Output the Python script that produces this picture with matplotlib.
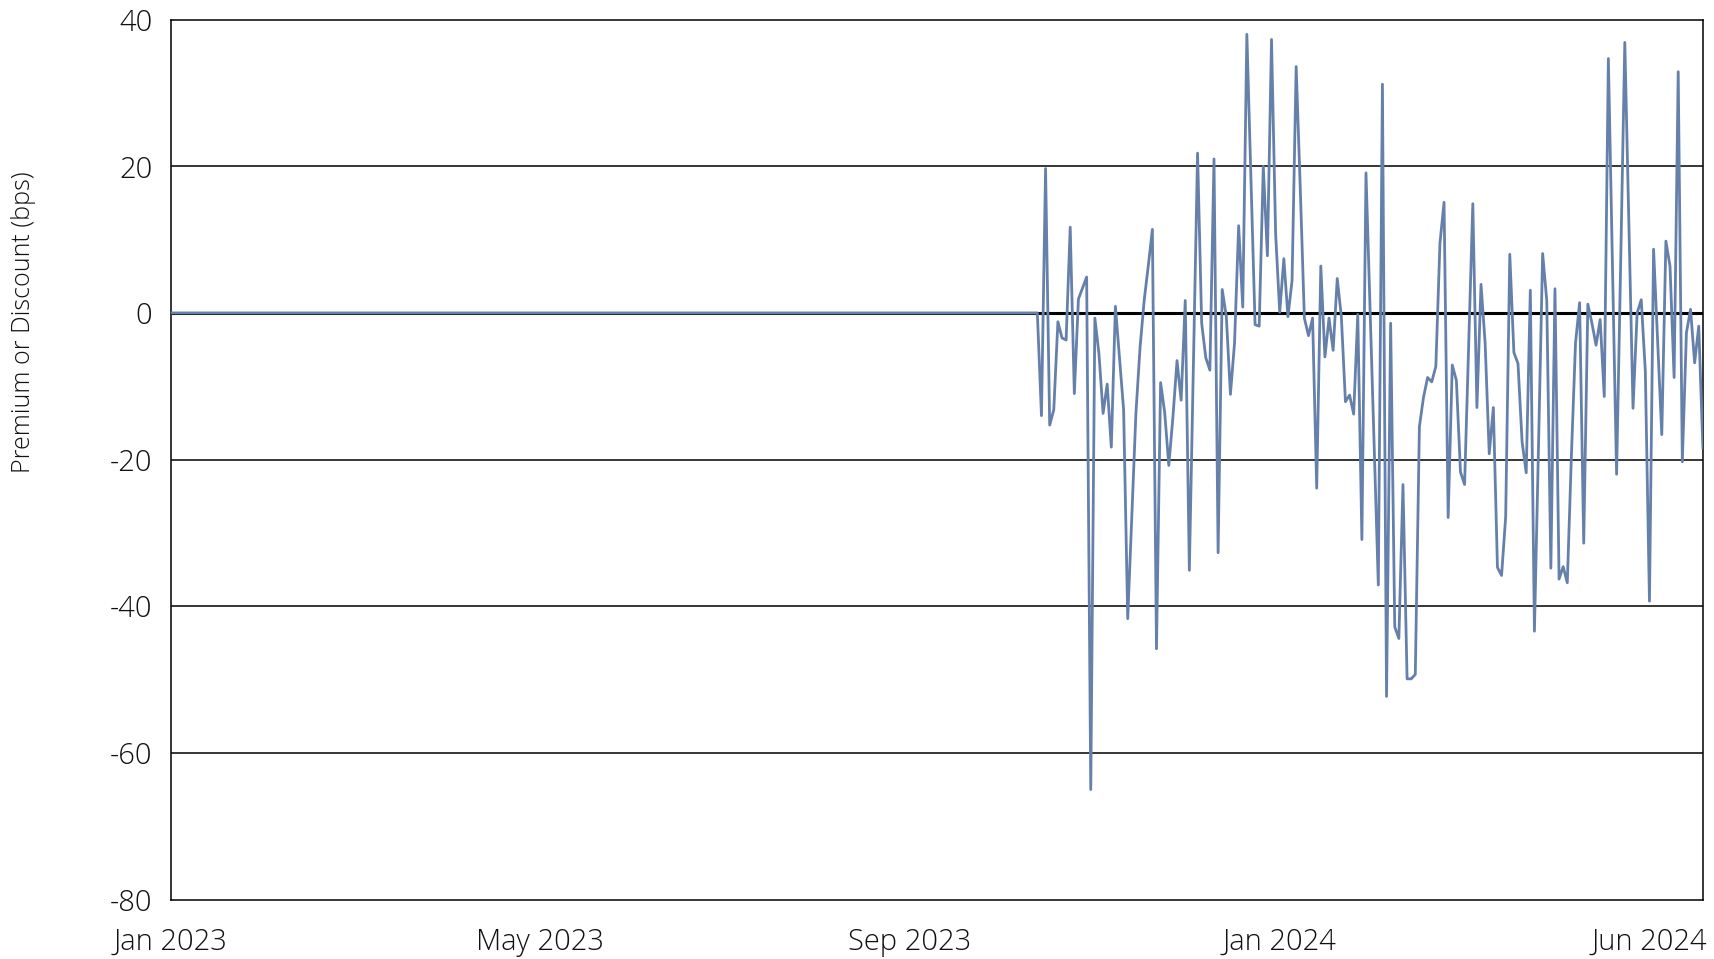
import matplotlib.pyplot as plt
import pandas as pd

# exchange closures inside the plotted window
holidays = ['2023-01-02', '2023-01-16', '2023-02-20', '2023-04-07', '2023-05-29',
            '2023-06-19', '2023-07-04', '2023-09-04', '2023-11-23', '2023-12-25',
            '2024-01-01', '2024-01-15', '2024-02-19', '2024-03-29', '2024-05-27',
            '2024-06-19']
dates = pd.bdate_range('2023-01-03', '2024-06-28', freq='C', holidays=holidays)

# premium/discount (bps) once secondary trading starts; flat at zero before that
traded = [
    -14.0, 19.7, -15.3, -13.2, -1.2, -3.4, -3.7, 11.7, -11.0, 1.9,
    3.4, 4.9, -65.0, -0.7, -5.6, -13.7, -9.7, -18.3, 0.9, -6.1,
    -13.2, -41.7, -27.8, -13.6, -4.7, 1.7, 6.4, 11.4, -45.8, -9.5,
    -13.6, -20.8, -14.2, -6.5, -11.9, 1.7, -35.1, -7.0, 21.8, -1.4,
    -6.1, -7.8, 21.0, -32.7, 3.2, -0.5, -11.1, -4.1, 11.9, 0.8,
    38.0, 18.0, -1.6, -1.8, 20.0, 7.8, 37.3, 10.8, 0.1, 7.4,
    -0.5, 4.4, 33.6, 17.0, -0.7, -3.1, -0.7, -23.9, 6.4, -6.0,
    -0.7, -5.1, 4.7, -0.5, -12.1, -11.2, -13.8, -0.2, -30.9, 19.1,
    0.5, -18.0, -37.1, 31.2, -52.3, -1.4, -42.8, -44.4, -23.4, -49.9,
    -49.9, -49.3, -15.5, -11.5, -8.8, -9.4, -7.3, 9.5, 15.1, -27.9,
    -7.1, -9.2, -21.7, -23.4, -4.2, 14.9, -12.9, 3.9, -4.1, -19.2,
    -12.9, -34.7, -35.8, -27.8, 8.0, -5.4, -6.9, -17.6, -21.8, 3.1,
    -43.4, -18.0, 8.1, 1.7, -34.8, 3.3, -36.3, -34.6, -36.8, -19.5,
    -4.1, 1.4, -31.4, 1.2, -1.4, -4.4, -0.9, -11.4, 34.7, 6.0,
    -22.0, 7.0, 36.9, 12.0, -13.0, 0.0, 1.8, -8.0, -39.3, 8.7,
    -4.0, -16.6, 9.8, 6.4, -8.8, 32.9, -20.3, -2.7, 0.5, -6.8,
    -1.8, -18.4,
]
premium = [0.0] * (len(dates) - len(traded)) + traded

y_ticks = [-80, -60, -40, -20, 0, 20, 40]
x_tick_idx = [0, 90, 180, 270, 360]

plt.rcParams['font.family'] = ['Open Sans', 'DejaVu Sans']
plt.rcParams['font.weight'] = 'light'

fig, ax = plt.subplots(figsize=(17.14, 9.59), dpi=100)
fig.subplots_adjust(left=0.0995, right=0.9935, top=0.9795, bottom=0.062)

for y in y_ticks[1:-1]:
    if y == 0:
        continue
    ax.axhline(y, color='black', lw=1.1, zorder=1)
ax.axhline(0, color='black', lw=2.2, zorder=1)

x = list(range(len(dates)))
ax.plot(x, premium, color='#6580AA', lw=2.0, zorder=3)

ax.set_xlim(0, len(dates) - 1)
ax.set_ylim(-80, 40)
ax.set_yticks(y_ticks)
ax.set_yticklabels([str(v) for v in y_ticks])
ax.set_xticks(x_tick_idx)
ax.set_xticklabels([dates[i].strftime('%b %Y') for i in x_tick_idx])

ax.tick_params(axis='both', length=0, labelsize=21, colors='#111111')
ax.tick_params(axis='y', pad=13)
ax.tick_params(axis='x', pad=20)
for s in ax.spines.values():
    s.set_color('black')
    s.set_linewidth(1.1)

fig.text(0.014, 1 - 322 / 959, 'Premium or Discount (bps)', rotation=90,
         ha='center', va='center', fontsize=18, color='#111111')

fig.savefig('out.png', dpi=100)
